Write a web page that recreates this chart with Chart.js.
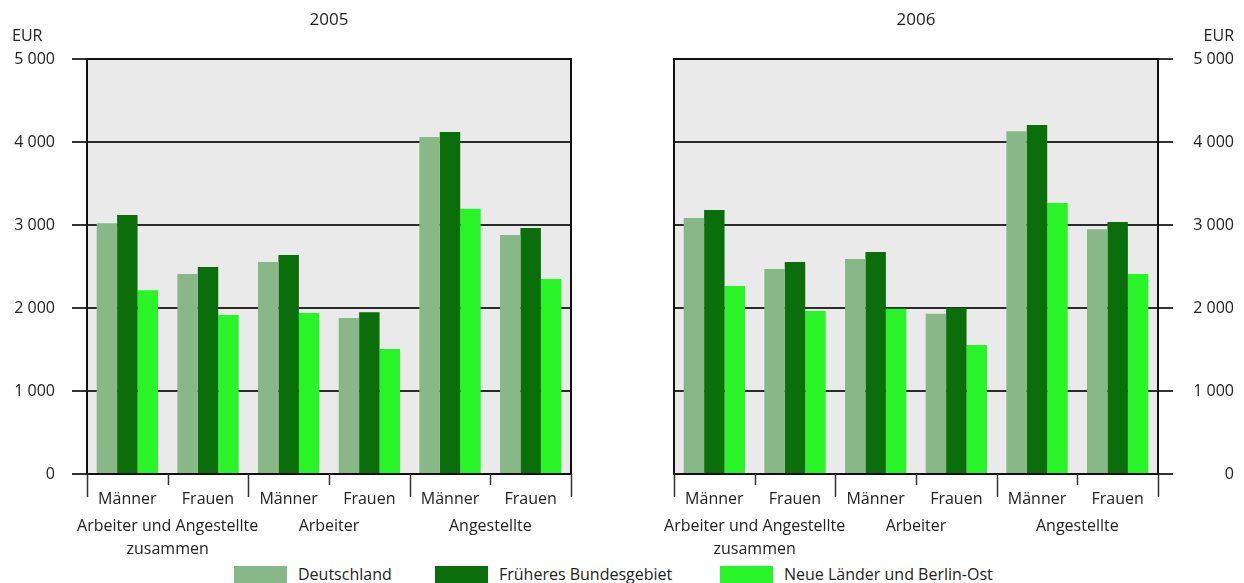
<!DOCTYPE html>
<html lang="de">
<head>
<meta charset="utf-8">
<script src="https://cdn.jsdelivr.net/npm/chart.js@4/dist/chart.umd.min.js"></script>
<style>
    html, body { margin: 0; padding: 0; background: #fff; }
    #page { position: relative; width: 1244px; height: 583px; overflow: hidden; font-family: "Open Sans", sans-serif; color: #222; }
    .panel { position: absolute; top: 0; height: 560px; }
    #left { left: 0; width: 600px; }
    #right { left: 588px; width: 656px; }
    .legend-item { position: absolute; top: 566px; display: flex; align-items: center; font-size: 16px; line-height: 17px; }
    .legend-item span.box { display: inline-block; width: 53px; height: 17px; margin-right: 11px; }
</style>
</head>
<body>
<div id="page">
    <div class="panel" id="left"><canvas id="chart-2005"></canvas></div>
    <div class="panel" id="right"><canvas id="chart-2006"></canvas></div>
    <div class="legend-item" style="left:234px"><span class="box" style="background:#88b888"></span>Deutschland</div>
    <div class="legend-item" style="left:435px"><span class="box" style="background:#0a6e0a"></span>Früheres Bundesgebiet</div>
    <div class="legend-item" style="left:720px"><span class="box" style="background:#28f428"></span>Neue Länder und Berlin-Ost</div>
</div>
<script>
// Durchschnittliche Bruttomonatsverdienste, EUR
const categories = ['Männer', 'Frauen', 'Männer', 'Frauen', 'Männer', 'Frauen'];
const groups = [['Arbeiter und Angestellte', 'zusammen'], 'Arbeiter', 'Angestellte'];
const yTicks = [0, 1000, 2000, 3000, 4000, 5000];

const deutschland2005 = [3020, 2410, 2555, 1880, 4060, 2880];
const frueher2005 = [3120, 2495, 2640, 1950, 4120, 2965];
const neue2005 = [2215, 1915, 1940, 1505, 3195, 2350];

const deutschland2006 = [3085, 2470, 2590, 1930, 4130, 2950];
const frueher2006 = [3180, 2555, 2675, 2000, 4205, 3035];
const neue2006 = [2265, 1965, 1990, 1555, 3265, 2410];

const COLORS = { de: '#88b888', fb: '#0a6e0a', nl: '#28f428' };
const FONT = '"Open Sans", sans-serif';
const TEXT = '#222';

function fmt(v) {
    return String(v).replace(/\B(?=(\d{3})+(?!\d))/g, ' ');
}

// plot background, frame, title, EUR label and category boundary ticks
const decorations = {
    id: 'decorations',
    beforeDraw(chart, args, opts) {
        const { ctx, chartArea: a } = chart;
        ctx.save();
        ctx.fillStyle = '#eaeaea';
        ctx.fillRect(a.left, a.top, a.right - a.left, a.bottom - a.top);
        ctx.restore();
    },
    afterDatasetsDraw(chart, args, opts) {
        const { ctx, chartArea: a } = chart;
        const xs = chart.scales.x;
        const w = (a.right - a.left) / categories.length;
        ctx.save();
        ctx.strokeStyle = '#111';
        ctx.lineWidth = 2;
        ctx.strokeRect(a.left, a.top, a.right - a.left, a.bottom - a.top);

        ctx.lineWidth = 1.5;
        ctx.strokeStyle = '#333';
        for (let i = 0; i <= categories.length; i++) {
            const x = Math.round(xs.left + i * w) + 0.5;
            const len = i % 2 === 0 ? 23 : 11;
            ctx.beginPath();
            ctx.moveTo(x, a.bottom);
            ctx.lineTo(x, a.bottom + len);
            ctx.stroke();
        }

        ctx.fillStyle = TEXT;
        ctx.font = '17px ' + FONT;
        ctx.textAlign = 'center';
        ctx.textBaseline = 'middle';
        ctx.fillText(opts.title, (a.left + a.right) / 2, 20);

        ctx.font = '16px ' + FONT;
        ctx.textAlign = opts.side === 'left' ? 'left' : 'right';
        ctx.fillText('EUR', opts.eurX, 36);
        ctx.restore();
    }
};

function makeChart(canvas, title, de, fb, nl, side) {
    const isLeft = side === 'left';
    return new Chart(canvas, {
        type: 'bar',
        data: {
            labels: categories,
            datasets: [
                { label: 'Deutschland', data: de, backgroundColor: COLORS.de },
                { label: 'Früheres Bundesgebiet', data: fb, backgroundColor: COLORS.fb },
                { label: 'Neue Länder und Berlin-Ost', data: nl, backgroundColor: COLORS.nl }
            ]
        },
        options: {
            responsive: true,
            maintainAspectRatio: false,
            animation: false,
            datasets: { bar: { categoryPercentage: 0.76, barPercentage: 1, borderWidth: 0 } },
            layout: { padding: isLeft ? { left: 0, right: 29, top: 59, bottom: 0 } : { left: 86, right: 10, top: 59, bottom: 0 } },
            plugins: {
                legend: { display: false },
                tooltip: { enabled: false },
                decorations: { title, side, eurX: isLeft ? 12 : 646 }
            },
            scales: {
                x: {
                    offset: true,
                    grid: { display: false },
                    border: { display: false },
                    ticks: { color: TEXT, padding: 8, font: { family: FONT, size: 16 }, maxRotation: 0, autoSkip: false },
                    afterFit: (s) => { s.height = 30; }
                },
                x2: {
                    type: 'category',
                    position: 'bottom',
                    labels: groups,
                    offset: true,
                    grid: { display: false },
                    border: { display: false },
                    ticks: { color: TEXT, padding: 3, font: { family: FONT, size: 16, lineHeight: 1.45 }, maxRotation: 0, autoSkip: false },
                    afterFit: (s) => { s.height = 56; }
                },
                y: {
                    position: side,
                    min: 0,
                    max: 5000,
                    afterBuildTicks: (s) => { s.ticks = yTicks.map((v) => ({ value: v })); },
                    grid: { color: '#2a2a2a', lineWidth: 2, drawTicks: true, tickLength: 15, tickColor: '#333' },
                    border: { display: false },
                    ticks: {
                        color: TEXT,
                        padding: 17,
                        crossAlign: isLeft ? 'near' : 'far',
                        font: { family: FONT, size: 16 },
                        callback: (v) => fmt(v)
                    },
                    afterFit: (s) => { s.width = isLeft ? 87 : 76; }
                }
            }
        },
        plugins: [decorations]
    });
}

makeChart(document.getElementById('chart-2005'), '2005', deutschland2005, frueher2005, neue2005, 'left');
makeChart(document.getElementById('chart-2006'), '2006', deutschland2006, frueher2006, neue2006, 'right');
</script>
</body>
</html>
